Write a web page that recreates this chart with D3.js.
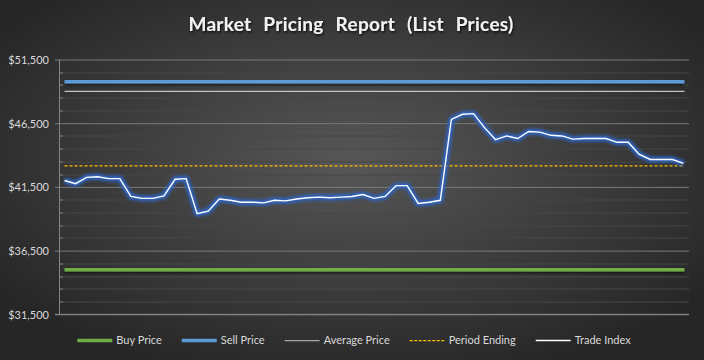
<!DOCTYPE html>
<html>
<head>
<meta charset="utf-8">
<script src="https://cdn.jsdelivr.net/npm/d3@7"></script>
<style>
	html, body { margin: 0; padding: 0; background: #2a2a2a; }
	svg text { font-family: Lato, "Open Sans", sans-serif; }
</style>
</head>
<body>
<div id="chart"></div>
<script>
// trade index, one value per period
var tradeIndex = [
	42000, 41750, 42250, 42300, 42150, 42150, 40750, 40600, 40600, 40800,
	42100, 42150, 39400, 39600, 40550, 40450, 40300, 40300, 40250, 40450,
	40400, 40550, 40650, 40700, 40650, 40700, 40750, 40900, 40600, 40750,
	41600, 41600, 40200, 40300, 40450, 46800, 47200, 47250, 46150, 45200,
	45500, 45300, 45850, 45800, 45550, 45500, 45250, 45300, 45300, 45300,
	45000, 45000, 44050, 43650, 43650, 43650, 43350
];

var buyPrice = 35000,
	sellPrice = 49750,
	averagePrice = 49000,
	periodEnding = 43150;

var yTicks = [31500, 36500, 41500, 46500, 51500];
var seriesNames = ["Buy Price", "Sell Price", "Average Price", "Period Ending", "Trade Index"];

var width = 704,
	height = 360;

var margin = { top: 59.5, right: 15, bottom: 45.7, left: 59 };

var svg = d3.select("#chart").append("svg")
	.attr("width", width)
	.attr("height", height);

var defs = svg.append("defs");

var bg = defs.append("radialGradient")
	.attr("id", "bg")
	.attr("cx", "50%").attr("cy", "45%").attr("r", "62%");
bg.append("stop").attr("offset", "0%").attr("stop-color", "#575757");
bg.append("stop").attr("offset", "100%").attr("stop-color", "#262626");

// horizontal lines have a zero-height box, so use a user-space region
var shadow = defs.append("filter").attr("id", "shadow")
	.attr("filterUnits", "userSpaceOnUse")
	.attr("x", -100).attr("y", -100).attr("width", 900).attr("height", 500);
shadow.append("feDropShadow")
	.attr("dx", 0).attr("dy", 2).attr("stdDeviation", 1.2)
	.attr("flood-color", "#000").attr("flood-opacity", 0.55);

var glow = defs.append("filter").attr("id", "glow")
	.attr("filterUnits", "userSpaceOnUse")
	.attr("x", -100).attr("y", -100).attr("width", 900).attr("height", 500);
glow.append("feGaussianBlur").attr("stdDeviation", 1.6);

var titleShadow = defs.append("filter").attr("id", "tshadow");
titleShadow.append("feDropShadow")
	.attr("dx", 1).attr("dy", 1.5).attr("stdDeviation", 1)
	.attr("flood-color", "#000").attr("flood-opacity", 0.8);

svg.append("rect")
	.attr("width", width)
	.attr("height", height)
	.attr("fill", "url(#bg)");

svg.append("text")
	.attr("x", 351)
	.attr("y", 30.5)
	.attr("text-anchor", "middle")
	.attr("fill", "#f2f2f2")
	.attr("font-size", 19)
	.attr("font-weight", "bold")
	.attr("word-spacing", 7)
	.attr("letter-spacing", 0.3)
	.attr("filter", "url(#tshadow)")
	.text("Market Pricing Report (List Prices)");

var chart_width = width - margin.left - margin.right,
	chart_height = height - margin.top - margin.bottom;

var xScale = d3.scalePoint()
	.domain(d3.range(tradeIndex.length))
	.range([0, chart_width])
	.padding(0.5);

var yScale = d3.scaleLinear()
	.domain([31500, 51500])
	.range([chart_height, 0]);

var g = svg.append("g")
	.attr("transform", "translate(" + margin.left + "," + margin.top + ")");

// minor grid every 1000, major at the labelled ticks
var minor = d3.range(31500, 51501, 1000).filter(function(d) {
	return yTicks.indexOf(d) < 0;
});

g.selectAll(".minor")
	.data(minor)
	.enter()
	.append("line")
	.attr("class", "minor")
	.attr("x1", 0).attr("x2", chart_width)
	.attr("y1", function(d) { return Math.round(yScale(d)) + 0.5; })
	.attr("y2", function(d) { return Math.round(yScale(d)) + 0.5; })
	.attr("stroke", "#474747");

g.selectAll(".minortick")
	.data(minor)
	.enter()
	.append("line")
	.attr("x1", 0).attr("x2", 4)
	.attr("y1", function(d) { return Math.round(yScale(d)) + 0.5; })
	.attr("y2", function(d) { return Math.round(yScale(d)) + 0.5; })
	.attr("stroke", "#7f7f7f");

var yAxis = d3.axisLeft(yScale)
	.tickValues(yTicks)
	.tickSize(-chart_width)
	.tickPadding(10)
	.tickFormat(function(d) { return "$" + d3.format(",")(d); });

var ya = g.append("g")
	.attr("class", "y axis")
	.call(yAxis);

ya.select(".domain").remove();
ya.selectAll(".tick line")
	.attr("stroke", "#7a7a7a")
	.attr("x1", -4);
ya.selectAll(".tick text")
	.attr("fill", "#d9d9d9")
	.attr("font-size", 11)
	.attr("dy", "0.35em");

g.append("line")
	.attr("x1", 0.5).attr("x2", 0.5)
	.attr("y1", 0).attr("y2", chart_height)
	.attr("stroke", "#858585");

g.append("line")
	.attr("x1", -4).attr("x2", chart_width)
	.attr("y1", chart_height).attr("y2", chart_height)
	.attr("stroke", "#8a8a8a");

var x0 = xScale(0),
	x1 = xScale(tradeIndex.length - 1);

function flat(v, color, w, dash, filt) {
	var l = g.append("line")
		.attr("x1", x0).attr("x2", x1 + 1)
		.attr("y1", yScale(v)).attr("y2", yScale(v))
		.attr("stroke", color)
		.attr("stroke-width", w);
	if (dash) l.attr("stroke-dasharray", dash);
	if (filt) l.attr("filter", filt);
}

flat(buyPrice, "#70ad47", 3.5, null, "url(#shadow)");
flat(sellPrice, "#5b9bd5", 3.5, null, "url(#shadow)");
flat(averagePrice, "#c4c4c4", 1.25);
flat(periodEnding, "#ffc000", 1.25, "3,2");

var line = d3.line()
	.x(function(d, i) { return xScale(i); })
	.y(function(d) { return yScale(d); });

g.append("path")
	.attr("d", line(tradeIndex))
	.attr("fill", "none")
	.attr("stroke", "#2f63c0")
	.attr("stroke-width", 6)
	.attr("stroke-linejoin", "round")
	.attr("filter", "url(#glow)");

g.append("path")
	.attr("d", line(tradeIndex))
	.attr("fill", "none")
	.attr("stroke", "#ffffff")
	.attr("stroke-width", 1.4);

// legend
var swatches = [
	{ color: "#70ad47", w: 3.5 },
	{ color: "#5b9bd5", w: 3.5 },
	{ color: "#a6a6a6", w: 1.25 },
	{ color: "#ffc000", w: 1.25, dash: "3,1.5" },
	{ color: "#ffffff", w: 1.5 }
];

var legend = svg.append("g");
var lx = 0;
seriesNames.forEach(function(name, i) {
	var item = legend.append("g").attr("transform", "translate(" + lx + ",0)");
	var s = item.append("line")
		.attr("x1", 0).attr("x2", 35)
		.attr("y1", 0).attr("y2", 0)
		.attr("stroke", swatches[i].color)
		.attr("stroke-width", swatches[i].w);
	if (swatches[i].dash) s.attr("stroke-dasharray", swatches[i].dash);
	var t = item.append("text")
		.attr("x", 39)
		.attr("dy", "0.35em")
		.attr("fill", "#d9d9d9")
		.attr("font-size", 11)
		.text(name);
	lx += 39 + t.node().getComputedTextLength() + 20;
});
lx -= 20;
legend.attr("transform", "translate(" + (354 - lx / 2) + ",340.5)");
</script>
</body>
</html>
